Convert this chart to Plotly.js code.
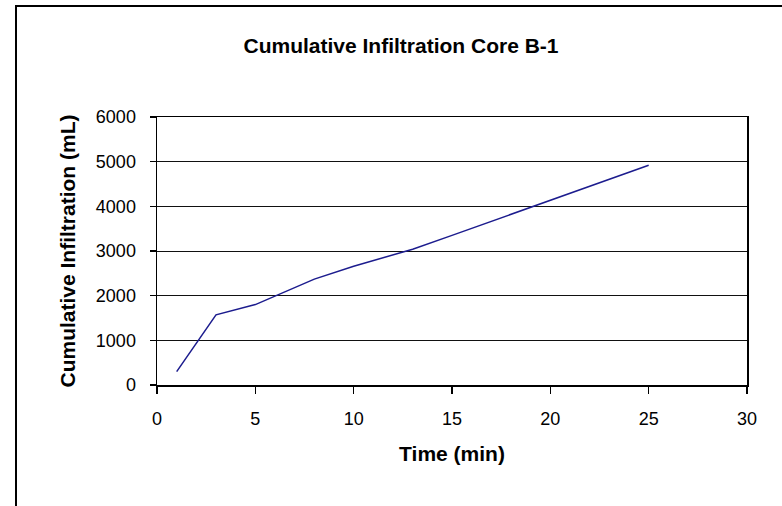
<!DOCTYPE html>
<html>
<head>
<meta charset="utf-8">
<script src="https://cdn.plot.ly/plotly-3.0.1.min.js"></script>
<style>
html,body{margin:0;padding:0;background:#fff;}
#wrap{position:relative;width:782px;height:506px;overflow:hidden;}
#chart{position:absolute;left:0;top:0;width:782px;height:506px;}
#frame{position:absolute;left:15px;top:5px;width:800px;height:600px;border-left:2px solid #000;border-top:2px solid #000;pointer-events:none;}
</style>
</head>
<body>
<div id="wrap"><div id="chart"></div><div id="frame"></div></div>
<script>
const chartTitle = "Cumulative Infiltration Core B-1";
const xTitle = "Time (min)";
const yTitle = "Cumulative Infiltration (mL)";
const timeMin = [1, 3, 5, 8, 10, 13, 15, 20, 25];
const infiltrationML = [300, 1570, 1800, 2370, 2660, 3040, 3350, 4130, 4920];
const xTickVals = [0, 5, 10, 15, 20, 25, 30];
const yTickVals = [0, 1000, 2000, 3000, 4000, 5000, 6000];

const tickFont = {family: "Liberation Sans, Arial, sans-serif", size: 18, color: "#000"};
const boldFont = {family: "Liberation Sans, Arial, sans-serif", size: 21, color: "#000", weight: "bold"};

const trace = {
  x: timeMin, y: infiltrationML, type: "scatter", mode: "lines",
  line: {color: "#1c1c8e", width: 1.5}, hoverinfo: "skip", showlegend: false
};

const layout = {
  width: 782, height: 506,
  margin: {l: 157, r: 35, t: 117, b: 121, pad: 0},
  paper_bgcolor: "#fff", plot_bgcolor: "#fff",
  title: {text: "<b>" + chartTitle + "</b>", font: boldFont, x: 401/782, xref: "container", xanchor: "center", y: 1 - 46/506, yref: "container", yanchor: "middle"},
  xaxis: {
    range: [0, 30], tickvals: xTickVals, ticktext: xTickVals.map(String),
    showgrid: false, zeroline: false, showline: true, linecolor: "#000", linewidth: 1.5, mirror: true,
    ticks: "outside", ticklen: 7, tickwidth: 1.5, tickcolor: "#000", tickfont: tickFont,
    ticklabelstandoff: 10,
    title: {text: "<b>" + xTitle + "</b>", font: boldFont, standoff: 18}
  },
  yaxis: {
    range: [0, 6000], tickvals: yTickVals, ticktext: yTickVals.map(String),
    showgrid: true, gridcolor: "#111", gridwidth: 1, zeroline: false,
    showline: true, linecolor: "#000", linewidth: 1.5, mirror: true,
    ticks: "outside", ticklen: 6, tickwidth: 1.5, tickcolor: "#000", tickfont: tickFont,
    ticklabelstandoff: 10,
    title: {text: "<b>" + yTitle + "</b>", font: boldFont, standoff: 14}
  },
  showlegend: false
};

Plotly.newPlot("chart", [trace], layout, {displayModeBar: false, staticPlot: true});
</script>
</body>
</html>
